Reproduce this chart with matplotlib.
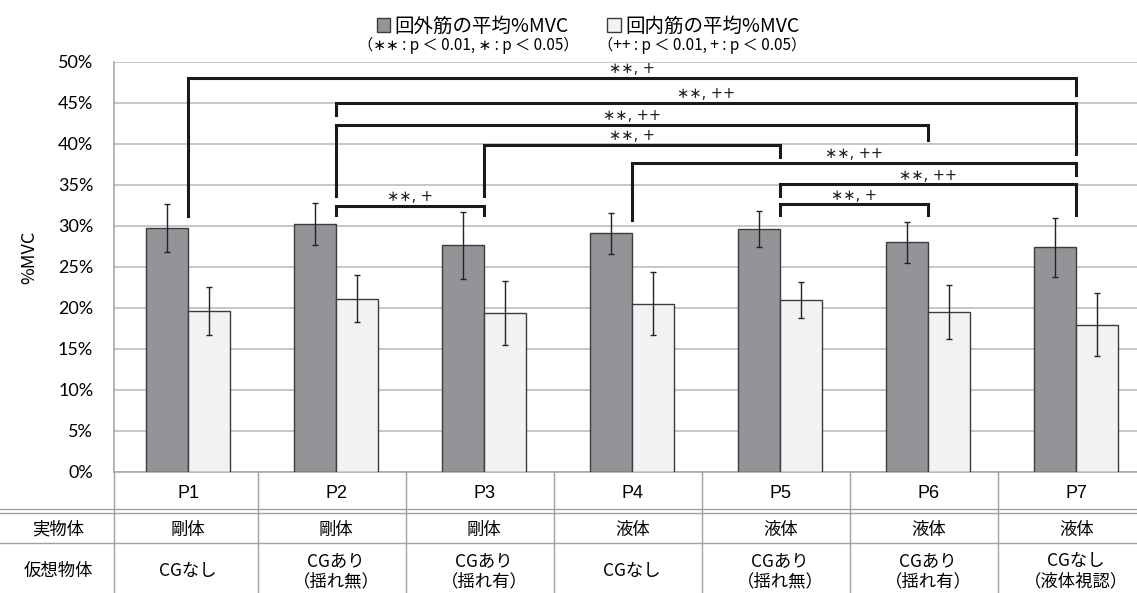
import numpy as np
import matplotlib
matplotlib.use('Agg')
import matplotlib.pyplot as plt
import matplotlib.transforms as mtransforms
from matplotlib.lines import Line2D

plt.rcParams['font.family'] = ['Noto Sans CJK JP', 'DejaVu Sans']

# mean %MVC and standard deviation per condition
conditions = ['P1', 'P2', 'P3', 'P4', 'P5', 'P6', 'P7']
real_object = ['剛体', '剛体', '剛体', '液体', '液体', '液体', '液体']
virtual_object = ['CGなし', 'CGあり\n（揺れ無）', 'CGあり\n（揺れ有）', 'CGなし',
                  'CGあり\n（揺れ無）', 'CGあり\n（揺れ有）', 'CGなし\n（液体視認）']
supination_mean = [29.7, 30.2, 27.6, 29.1, 29.6, 28.0, 27.35]
supination_sd = [2.9, 2.6, 4.1, 2.5, 2.15, 2.5, 3.6]
pronation_mean = [19.6, 21.1, 19.4, 20.5, 20.9, 19.5, 17.9]
pronation_sd = [2.9, 2.9, 3.9, 3.8, 2.2, 3.3, 3.85]
series_names = ['回外筋の平均%MVC', '回内筋の平均%MVC']
notes = ['（∗∗ : p ＜ 0.01, ∗ : p ＜ 0.05）', '（++ : p ＜ 0.01, + : p ＜ 0.05）']

# significant pairs and their marks
bracket_pairs = [(0, 6), (1, 6), (1, 5), (2, 4), (3, 6), (4, 6), (4, 5), (1, 2)]
bracket_labels = ['∗∗, +', '∗∗, ++', '∗∗, ++', '∗∗, +',
                  '∗∗, ++', '∗∗, ++', '∗∗, +', '∗∗, +']

# bracket layout (in % units): bar height, left leg end, right leg end
bracket_y = [48.0, 45.0, 42.3, 39.9, 37.7, 35.05, 32.6, 32.4]
bracket_left_end = [31.2, 43.5, 33.6, 33.6, 30.7, 33.6, 31.3, 31.3]
bracket_right_end = [45.9, 38.7, 40.5, 38.4, 36.2, 31.3, 31.3, 31.3]

W, H = 1137, 593


def fy(py):
    return 1 - py / H


fig = plt.figure(figsize=(W / 100, H / 100), dpi=100)
ax = fig.add_axes([114 / W, fy(471.7), 1 - 114 / W, (471.7 - 61.7) / H])

x = np.arange(len(conditions))
w = 0.284
err_style = dict(ecolor='#222222', elinewidth=1.0, capsize=2.4, capthick=1.0)
b1 = ax.bar(x - w / 2, supination_mean, w, yerr=supination_sd, color='#939498',
            edgecolor='#3c3c3c', linewidth=1.0, error_kw=err_style, zorder=3)
b2 = ax.bar(x + w / 2, pronation_mean, w, yerr=pronation_sd, color='#f1f2f4',
            edgecolor='#3c3c3c', linewidth=1.0, error_kw=err_style, zorder=3)

ax.set_xlim(-0.502, (W - 188.3) / 148)
ax.set_ylim(0, 50)
ax.set_yticks(range(0, 51, 5))
ax.set_yticklabels([f'{v}%' for v in range(0, 51, 5)], family='Lato', fontsize=13)
ax.tick_params(axis='y', length=0, pad=15)
ax.set_xticks([])
ax.yaxis.grid(True, color='#bdbdbd', linewidth=1.2)
ax.set_axisbelow(True)
for side in ['top', 'right']:
    ax.spines[side].set_visible(False)
for side in ['left', 'bottom']:
    ax.spines[side].set_color('#a8a8a8')
    ax.spines[side].set_linewidth(1.2)
ax.set_ylabel('%MVC', fontsize=13)
ax.yaxis.set_label_coords((38 - 114) / (W - 114), (471.7 - 257) / 410)

# significance brackets
for (i, j), lab, h, le, re in zip(bracket_pairs, bracket_labels, bracket_y,
                                  bracket_left_end, bracket_right_end):
    ax.plot([i, i, j, j], [le, h, h, re], color='#1a1a1a', linewidth=2.2,
            solid_joinstyle='miter', clip_on=False, zorder=4)
    ax.annotate(lab, ((i + j) / 2, h), xytext=(0, 1.2), textcoords='offset points',
                ha='center', va='bottom', fontsize=10.5, family='DejaVu Sans',
                color='#222222')

# condition table below the axis
trans = mtransforms.blended_transform_factory(ax.transData, fig.transFigure)
line_kw = dict(color='#a0a0a0', linewidth=1.0)
for py in [509.3, 512.7, 542.7]:
    fig.add_artist(Line2D([0, 1], [fy(py), fy(py)], transform=fig.transFigure, **line_kw))
fig.add_artist(Line2D([114 / W, 114 / W], [fy(471.7), 0], transform=fig.transFigure, **line_kw))
for i in range(len(conditions) - 1):
    fig.add_artist(Line2D([i + 0.47, i + 0.47], [fy(471.7), 0], transform=trans, **line_kw))

for i in range(len(conditions)):
    fig.text(i, fy(494), conditions[i], transform=trans, ha='center', va='center',
             fontsize=13, family='Liberation Sans')
    fig.text(i, fy(529.5), real_object[i], transform=trans, ha='center', va='center',
             fontsize=12.5)
    fig.text(i, fy(571), virtual_object[i], transform=trans, ha='center', va='center',
             fontsize=12.5, linespacing=1.2)
fig.text(58 / W, fy(529.5), '実物体', ha='center', va='center', fontsize=12.5)
fig.text(58 / W, fy(570.5), '仮想物体', ha='center', va='center', fontsize=12.5)

# legend with significance notes underneath
ax.legend([b1, b2], series_names, loc='center', bbox_to_anchor=(588 / W, fy(26)),
          bbox_transform=fig.transFigure, ncol=2, frameon=False, fontsize=14,
          handlelength=0.7, handleheight=0.7, handletextpad=0.2, columnspacing=2.0,
          borderpad=0)
fig.text(468 / W, fy(45.5), notes[0], ha='center', va='center', fontsize=11)
fig.text(702 / W, fy(45.5), notes[1], ha='center', va='center', fontsize=11)

fig.savefig('out.png', dpi=100)
